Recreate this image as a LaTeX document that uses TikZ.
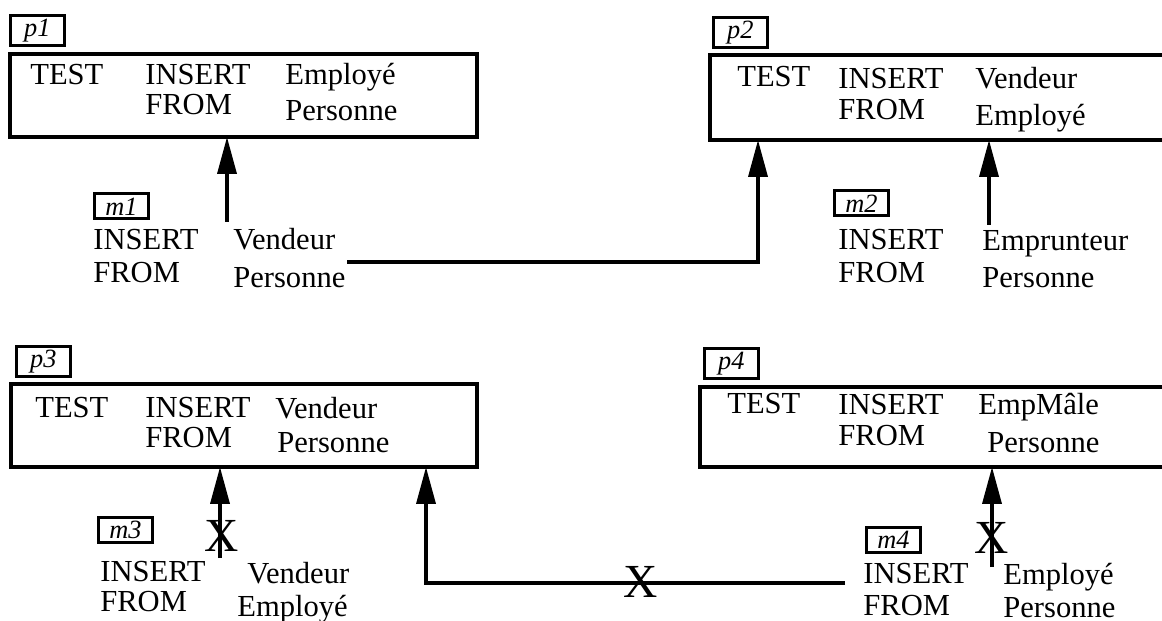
\documentclass[tikz,border=0pt]{standalone}
\usepackage{fontspec}
\setmainfont{Liberation Serif}
\usepackage{tikz}
\usetikzlibrary{arrows.meta}

\begin{document}
\begin{tikzpicture}[x=0.02cm,y=-0.02cm,
  txt/.style={anchor=base west,inner sep=0pt,font=\fontsize{17.4}{19}\selectfont},
  tag/.style={draw,line width=1.6pt,anchor=north west,inner sep=0pt,minimum width=1.08cm,font=\fontsize{15}{15}\selectfont\itshape},
  ptag/.style={tag,minimum height=0.6cm},
  mtag/.style={tag,minimum height=0.5cm},
  box/.style={line width=2pt},
  arr/.style={line width=2pt,-{Triangle[length=21pt,width=10.8pt]}},
  cross/.style={inner sep=0pt,font=\fontsize{27}{27}\selectfont}]
\clip (0,0) rectangle (1162,621);
% p1
\node[ptag] (p1) at (9,14) {p1};
\draw[box] (10,54) coordinate (p1nw) rectangle (477,137) coordinate (p1se);
\node[txt] (p1test) at (30,85) {TEST};
\node[txt] (p1ins) at (145,85) {INSERT};
\node[txt] (p1insv) at (285,85) {Employé};
\node[txt] (p1from) at (145,115) {FROM};
\node[txt] (p1fromv) at (285,121) {Personne};
% p2
\node[ptag] (p2) at (712,16) {p2};
\draw[box] (710,55) coordinate (p2nw) rectangle (1190,140) coordinate (p2se);
\node[txt] (p2test) at (737,87) {TEST};
\node[txt] (p2ins) at (838,89) {INSERT};
\node[txt] (p2insv) at (975,89) {Vendeur};
\node[txt] (p2from) at (838,120) {FROM};
\node[txt] (p2fromv) at (975,126) {Employé};
% m1
\node[mtag] (m1) at (93,192.5) {m1};
\node[txt] (m1ins) at (93,250) {INSERT};
\node[txt] (m1from) at (93,283) {FROM};
\node[txt] (m1insv) at (233,250) {Vendeur};
\node[txt] (m1fromv) at (233,288) {Personne};
% m2
\node[mtag] (m2) at (833,189.5) {m2};
\node[txt] (m2ins) at (838,250) {INSERT};
\node[txt] (m2from) at (838,283) {FROM};
\node[txt] (m2insv) at (982,251) {Emprunteur};
\node[txt] (m2fromv) at (982,288) {Personne};
% p3
\node[ptag] (p3) at (15,345) {p3};
\draw[box] (11,384) coordinate (p3nw) rectangle (477,467) coordinate (p3se);
\node[txt] (p3test) at (35,417) {TEST};
\node[txt] (p3ins) at (145,417) {INSERT};
\node[txt] (p3insv) at (275,418) {Vendeur};
\node[txt] (p3from) at (145,447) {FROM};
\node[txt] (p3fromv) at (277,452) {Personne};
% p4
\node[ptag] (p4) at (703,347) {p4};
\draw[box] (700,387) coordinate (p4nw) rectangle (1190,467) coordinate (p4se);
\node[txt] (p4test) at (727,413) {TEST};
\node[txt] (p4ins) at (838,414) {INSERT};
\node[txt] (p4insv) at (978,414) {EmpMâle};
\node[txt] (p4from) at (838,445) {FROM};
\node[txt] (p4fromv) at (987,452) {Personne};
% m3
\node[mtag] (m3) at (97,516) {m3};
\node[txt] (m3ins) at (100,581) {INSERT};
\node[txt] (m3from) at (100,611) {FROM};
\node[txt] (m3insv) at (247,583) {Vendeur};
\node[txt] (m3fromv) at (237,616) {Employé};
% m4
\node[mtag] (m4) at (865,526) {m4};
\node[txt] (m4ins) at (863,583) {INSERT};
\node[txt] (m4from) at (863,615) {FROM};
\node[txt] (m4insv) at (1003,584) {Employé};
\node[txt] (m4fromv) at (1003,617) {Personne};
% connectors
\coordinate (m1a) at (227,222);
\coordinate (m1out) at (347,262);
\coordinate (p2in) at (758,140);
\coordinate (m2a) at (989,225);
\coordinate (m3a) at (220,558);
\coordinate (m4out) at (845,583);
\coordinate (p3in) at (426,467);
\coordinate (m4a) at (992,567);
\draw[arr] (m1a) -- (m1a |- p1se);
\draw[arr] (m1out) -| (p2in);
\draw[arr] (m2a) -- (m2a |- p2se);
\draw[arr] (m3a) -- (m3a |- p3se);
\draw[arr] (m4out) -| (p3in);
\draw[arr] (m4a) -- (m4a |- p4se);
\node[cross] (x3) at (222,536) {X};
\node[cross] (x34) at (641,582) {X};
\node[cross] (x4) at (992,538) {X};
\end{tikzpicture}
\end{document}
